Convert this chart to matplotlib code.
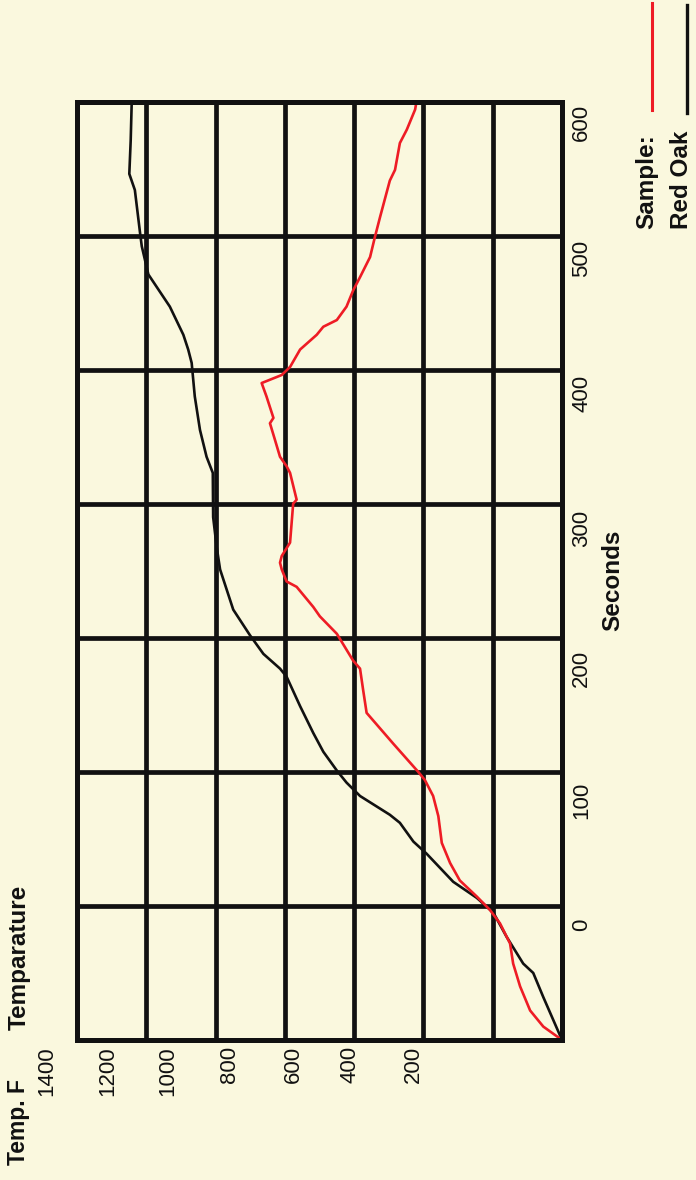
import matplotlib
matplotlib.use("Agg")
import matplotlib.pyplot as plt
from matplotlib.lines import Line2D

plt.rcParams['font.family'] = ['Liberation Sans', 'DejaVu Sans']

# ---------------- data ----------------
# Red Oak (black curve): seconds, temperature (F)
oak_sec = [-100, -68, -50, -43, -23, -5, 6, 18, 39, 48, 62, 68, 82, 92, 101, 115, 129,
           149, 171, 177, 188, 202, 221, 236, 251, 268, 290, 323, 335, 355, 380, 405,
           415, 426, 447, 471, 492, 502, 534, 546, 571, 600]
oak_temp = [0, 54, 83, 112, 160, 198, 246, 314, 391, 429, 468, 497, 583, 622, 650, 689, 718,
            756, 795, 814, 862, 901, 949, 968, 987, 997, 1007, 1008, 1026, 1045, 1060, 1069,
            1079, 1093, 1132, 1194, 1213, 1218, 1233, 1249, 1245, 1242]

# Sample (red curve): seconds, temperature (F)
sample_sec = [-100, -90, -78, -60, -43, -28, -13, -3, 7, 19, 32, 47, 67, 82, 94, 100, 121,
              144, 161, 177, 183, 203, 216, 223, 238, 242, 251, 256, 261, 271, 300, 303,
              323, 328, 335, 348, 360, 364, 380, 390, 396, 402, 415, 426, 432, 437, 447,
              459, 469, 484, 499, 514, 541, 549, 569, 579, 594, 600]
sample_temp = [0, 54, 92, 121, 141, 150, 179, 208, 246, 295, 323, 347, 357, 372, 396, 415, 487,
               564, 574, 583, 603, 650, 699, 718, 766, 795, 809, 814, 809, 785, 776, 766,
               785, 795, 814, 829, 843, 833, 853, 867, 809, 785, 756, 708, 689, 650, 622,
               603, 583, 554, 540, 525, 497, 482, 468, 448, 424, 420]

temp_labels = ["1400", "1200", "1000", "800", "600", "400", "200"]
sec_labels = ["600", "500", "400", "300", "200", "100", "0"]
temp_grid = [0, 200, 400, 600, 800, 1000, 1200, 1400]
sec_grid = [-100, 0, 100, 200, 300, 400, 500, 600]

# ---------------- layout ----------------
W, H = 696, 1180
bg = '#FAF8DE'
red = '#EE1C25'
ink = '#111111'

def fx(px):
    return px / W

def fy(py):
    return 1 - py / H

fig = plt.figure(figsize=(W / 100, H / 100), dpi=100, facecolor=bg)
ax = fig.add_axes([fx(77), fy(1040), (562 - 77) / W, (1040 - 101.5) / H])
ax.set_facecolor(bg)

ax.plot(oak_temp, oak_sec, color=ink, lw=1.9, solid_joinstyle='round', zorder=3)
ax.plot(sample_temp, sample_sec, color=red, lw=1.9, solid_joinstyle='round', zorder=4)

ax.set_xlim(1400, 0)
ax.set_ylim(-100, 600)
ax.set_xticks(temp_grid)
ax.set_yticks(sec_grid)
ax.tick_params(length=0, labelbottom=False, labelleft=False)
ax.grid(True, color=ink, lw=3.4, zorder=2)
for sp in ax.spines.values():
    sp.set_linewidth(3.6)
    sp.set_color(ink)
    sp.set_zorder(5)

# temperature tick labels (rotated, below the plot)
temp_label_x = [47, 108, 168, 230, 293, 350, 413]
for lab, px in zip(temp_labels, temp_label_x):
    fig.text(fx(px), fy(1046), lab, rotation=90, ha='center', va='top',
             fontsize=16, color=ink)

# seconds tick labels (rotated, right of the plot)
sec_label_y = [122, 258, 393, 528, 668, 800, 925]
for lab, py in zip(sec_labels, sec_label_y):
    fig.text(fx(571), fy(py), lab, rotation=90, ha='left', va='center',
             fontsize=16, color=ink)

# axis titles
fig.text(fx(19), fy(1165), "Temp. F", rotation=90, ha='center', va='bottom',
         fontsize=16.5, fontweight='bold', color=ink)
fig.text(fx(19), fy(1030), "Temparature", rotation=90, ha='center', va='bottom',
         fontsize=17.5, fontweight='bold', color=ink)
fig.text(fx(613), fy(580), "Seconds", rotation=90, ha='center', va='center',
         fontsize=17.5, fontweight='bold', color=ink)

# legend
fig.text(fx(647), fy(229), "Sample:", rotation=90, ha='center', va='bottom',
         fontsize=17.5, fontweight='bold', color=ink)
fig.text(fx(681), fy(229), "Red Oak", rotation=90, ha='center', va='bottom',
         fontsize=17.5, fontweight='bold', color=ink)
fig.add_artist(Line2D([fx(652), fx(652)], [fy(3), fy(110)], color=red, lw=2.2,
                      transform=fig.transFigure))
fig.add_artist(Line2D([fx(687), fx(687)], [fy(5), fy(113)], color=ink, lw=2.4,
                      transform=fig.transFigure))

fig.savefig("out.png", dpi=100, facecolor=bg)
